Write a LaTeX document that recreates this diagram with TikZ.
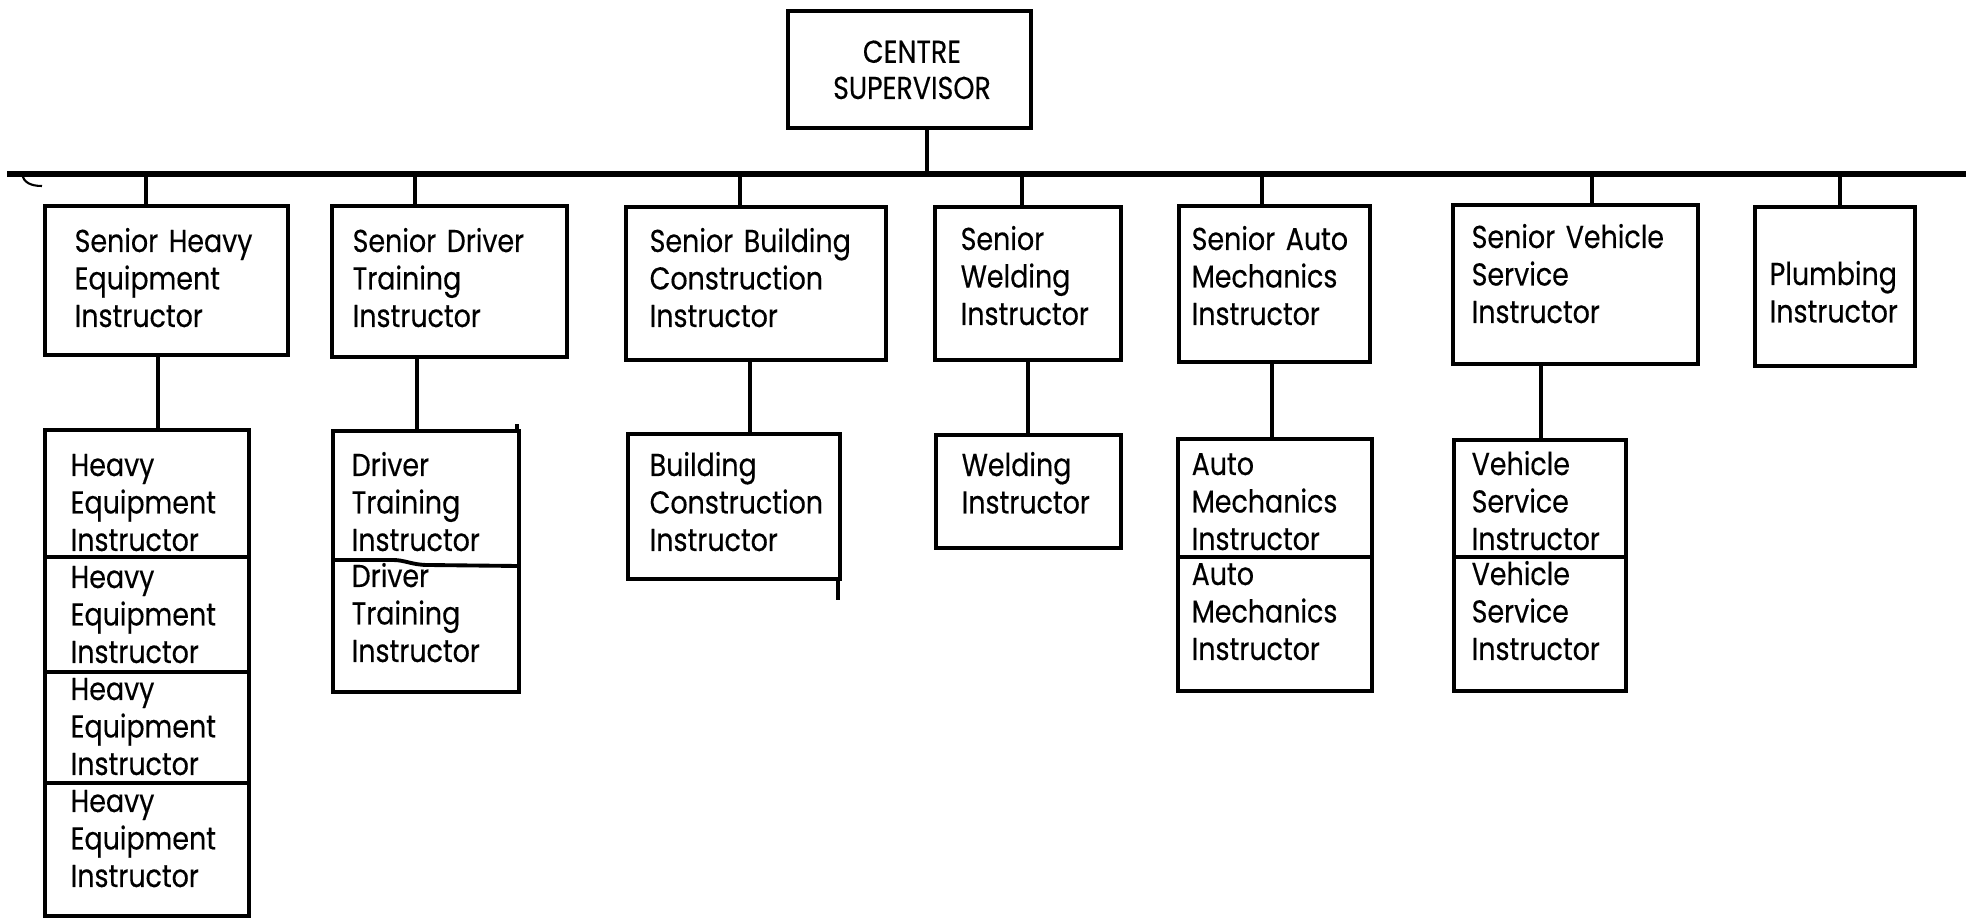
\documentclass[tikz,border=0pt]{standalone}
\usepackage{fontspec}
\setmainfont{Poppins}[FakeStretch=0.85, WordSpace=1.7, FakeBold=0.3]
\begin{document}
\begin{tikzpicture}[x=0.1mm,y=-0.1mm,
  box/.style={draw, line width=1.1pt, inner sep=0pt, anchor=north west},
  lbl/.style={anchor=base west, inner sep=0pt, align=left, text width=4cm,
    font=\fontsize{9}{10.67}\selectfont},
  conn/.style={line width=0.9pt},
  barline/.style={line width=1.6pt},
  divider/.style={line width=1.1pt}]
\useasboundingbox (0,0) rectangle (1966,918);

% supervisor
\node[box, minimum width=24.3mm, minimum height=11.7mm] (sup) at (786,9) {};
\node[anchor=base, inner sep=0pt, align=center, font=\fontsize{9}{10.3}\selectfont] (tsup) at (912,99) {CENTRE\\SUPERVISOR};

% bar
\coordinate (barL) at (7,174);
\coordinate (barR) at (1966,174);
\draw[barline] (barL) -- (barR);
\draw[line width=0.6pt] (22,175) .. controls (24,182) and (30,186) .. (42,186);

% senior boxes
\node[box, minimum width=24.3mm, minimum height=14.9mm] (s1) at (43,204) {};
\node[box, minimum width=23.5mm, minimum height=15.1mm] (s2) at (330,204) {};
\node[box, minimum width=26.0mm, minimum height=15.3mm] (s3) at (624,205) {};
\node[box, minimum width=18.6mm, minimum height=15.3mm] (s4) at (933,205) {};
\node[box, minimum width=19.1mm, minimum height=15.6mm] (s5) at (1177,204) {};
\node[box, minimum width=24.5mm, minimum height=15.9mm] (s6) at (1451,203) {};
\node[box, minimum width=16.0mm, minimum height=15.9mm] (s7) at (1753,205) {};

\node[lbl] (t1) at (74,252) {Senior Heavy\\Equipment\\Instructor};
\node[lbl] (t2) at (352,252) {Senior Driver\\Training\\Instructor};
\node[lbl] (t3) at (649,252) {Senior Building\\Construction\\Instructor};
\node[lbl] (t4) at (960,250) {Senior\\Welding\\Instructor};
\node[lbl] (t5) at (1191,250) {Senior Auto\\Mechanics\\Instructor};
\node[lbl] (t6) at (1471,248) {Senior Vehicle\\Service\\Instructor};
\node[lbl] (t7) at (1769,285) {Plumbing\\Instructor};

% subordinate stacks
\node[box, minimum width=20.4mm, minimum height=48.6mm] (h) at (43,428) {};
\draw[divider] (43,557) -- (247,557);
\draw[divider] (43,672) -- (247,672);
\draw[divider] (43,783) -- (249,783);
\node[lbl] (h1) at (70,476) {Heavy\\Equipment\\Instructor};
\node[lbl] (h2) at (70,588) {Heavy\\Equipment\\Instructor};
\node[lbl] (h3) at (70,700) {Heavy\\Equipment\\Instructor};
\node[lbl] (h4) at (70,812) {Heavy\\Equipment\\Instructor};

\node[box, minimum width=18.6mm, minimum height=26.1mm] (d) at (331,429) {};
\draw[divider] (331,560) -- (393,560) .. controls (405,560) and (412,565) .. (428,565) -- (517,566);
\draw[divider] (517,429) -- (517,424);
\node[lbl] (d1) at (351,476) {Driver\\Training\\Instructor};
\node[lbl] (d2) at (351,587) {Driver\\Training\\Instructor};

\node[box, minimum width=21.2mm, minimum height=14.5mm] (b) at (626,432) {};
\draw[divider] (838,577) -- (838,600);
\node[lbl] (b1) at (649,476) {Building\\Construction\\Instructor};

\node[box, minimum width=18.5mm, minimum height=11.3mm] (w) at (934,433) {};
\node[lbl] (w1) at (961,476) {Welding\\Instructor};

\node[box, minimum width=19.4mm, minimum height=25.2mm] (a) at (1176,437) {};
\draw[divider] (1176,557) -- (1370,557);
\node[lbl] (a1) at (1191,475) {Auto\\Mechanics\\Instructor};
\node[lbl] (a2) at (1191,585) {Auto\\Mechanics\\Instructor};

\node[box, minimum width=17.2mm, minimum height=25.1mm] (v) at (1452,438) {};
\draw[divider] (1452,557) -- (1624,557);
\node[lbl] (v1) at (1471,475) {Vehicle\\Service\\Instructor};
\node[lbl] (v2) at (1471,585) {Vehicle\\Service\\Instructor};

% connectors
\coordinate (k0) at (927,0);
\draw[conn] (sup.south -| k0) -- (barL -| k0);
\foreach \n/\x in {s1/146, s2/415, s3/740, s4/1022, s5/1262, s6/1592, s7/1840}{
  \coordinate (kx) at (\x,0);
  \draw[conn] (barL -| kx) -- (\n.north -| kx);
}
\foreach \s/\d/\x in {s1/h/158, s2/d/417, s3/b/750, s4/w/1028, s5/a/1272, s6/v/1541}{
  \coordinate (kx) at (\x,0);
  \draw[conn] (\s.south -| kx) -- (\d.north -| kx);
}
\end{tikzpicture}
\end{document}
